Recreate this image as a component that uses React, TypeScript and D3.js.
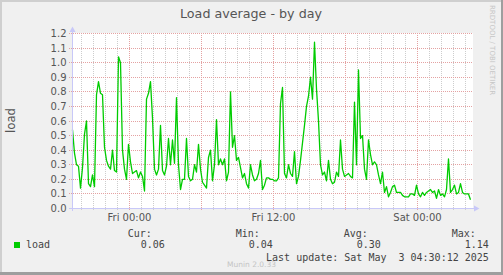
import React from "react";
import * as d3 from "d3";

// ---- data ----
const title = "Load average - by day";
const yAxisLabel = "load";
const seriesName = "load";
const startTime = Date.UTC(2025, 4, 1, 19, 15); // Thu 19:15
const endTime = Date.UTC(2025, 4, 3, 4, 35); // Sat 04:35
const stepMinutes = 10;
const loadValues = [
  0.54, 0.38, 0.30, 0.29, 0.14, 0.28, 0.51, 0.60, 0.17, 0.15,
  0.23, 0.15, 0.78, 0.87, 0.79, 0.78, 0.42, 0.33, 0.29, 0.27,
  0.40, 0.26, 0.25, 1.04, 1.00, 0.40, 0.27, 0.20, 0.44, 0.32,
  0.24, 0.25, 0.26, 0.21, 0.25, 0.22, 0.12, 0.75, 0.79, 0.87,
  0.62, 0.27, 0.23, 0.27, 0.57, 0.26, 0.23, 0.29, 0.48,
  0.30, 0.47, 0.31, 0.76, 0.30, 0.13, 0.20, 0.20, 0.48, 0.22,
  0.19, 0.20, 0.30, 0.25, 0.44, 0.27, 0.18, 0.16, 0.14, 0.35,
  0.40, 0.19, 0.30, 0.61, 0.30, 0.34, 0.30, 0.34, 0.19, 0.25,
  0.80, 0.42, 0.50, 0.33, 0.35, 0.28, 0.21, 0.24, 0.17, 0.14,
  0.30, 0.23, 0.19, 0.20, 0.24, 0.33, 0.13, 0.16, 0.21,
  0.21, 0.20, 0.20, 0.19, 0.19, 0.21, 0.72, 0.83, 0.24, 0.21,
  0.30, 0.24, 0.22, 0.39, 0.17, 0.22, 0.33, 0.45, 0.57, 0.70,
  0.77, 0.90, 0.75, 1.14, 0.82, 0.60, 0.30, 0.23, 0.25, 0.19,
  0.33, 0.20, 0.17, 0.18, 0.25, 0.22, 0.47, 0.27, 0.22, 0.23,
  0.24, 0.22, 0.21, 0.73, 0.30, 0.95, 0.48, 0.50, 0.27,
  0.20, 0.47, 0.37, 0.30, 0.32, 0.30, 0.23, 0.17, 0.25, 0.11,
  0.15, 0.08, 0.11, 0.15, 0.16, 0.11, 0.11, 0.11, 0.09, 0.08,
  0.08, 0.08, 0.10, 0.10, 0.09, 0.16, 0.10, 0.08, 0.11, 0.09,
  0.11, 0.12, 0.13, 0.11, 0.12, 0.07, 0.13, 0.09, 0.10, 0.08,
  0.13, 0.34, 0.11, 0.13, 0.16, 0.10, 0.11, 0.17, 0.11, 0.10,
  0.10, 0.10, 0.06,
];
const yTicks = [0, 0.1, 0.2, 0.3, 0.4, 0.5, 0.6, 0.7, 0.8, 0.9, 1.0, 1.1, 1.2];
const statLabels = ["Cur:", "Min:", "Avg:", "Max:"];
const statValues = ["0.06", "0.04", "0.30", "1.14"];
const lastUpdate = "Last update: Sat May  3 04:30:12 2025";
const watermark = "RRDTOOL / TOBI OETIKER";
const footer = "Munin 2.0.33";

const W = 503;
const H = 275;
const SANS = "'DejaVu Sans', Verdana, sans-serif";
const MONO = "'DejaVu Sans Mono', monospace";
const LINE = "#00cc00";
const AXIS = "#c8c8f8";
const MAJOR = "#e4a2a2";
const MINOR = "#cdcdcd";
const TEXT = "#555555";
const LEGEND = "#444444";

export default function App() {
  const x = d3
    .scaleUtc()
    .domain([new Date(startTime), new Date(endTime)])
    .range([72.5, 472.5]);
  const y = d3.scaleLinear().domain([0, 1.2]).range([208.5, 33.5]);
  const snap = (v: number) => Math.round(v - 0.5) + 0.5;

  const data = loadValues.map((v, i) => ({
    t: new Date(startTime + i * stepMinutes * 60000),
    v,
  }));
  const line = d3
    .line<{ t: Date; v: number }>()
    .x((d) => x(d.t))
    .y((d) => y(d.v));

  const hours = d3.utcHour.every(1)!.range(new Date(startTime), new Date(endTime));
  const minor = hours.filter((d) => d.getUTCHours() % 6 !== 0);
  const major = hours.filter((d) => d.getUTCHours() % 6 === 0);
  const labels = hours.filter((d) => d.getUTCHours() % 12 === 0);
  const fmt = d3.utcFormat("%a %H:%M");
  const yFmt = d3.format(".1f");

  return (
    <svg
      width={W}
      height={H}
      style={{ position: "fixed", left: 0, top: 0, display: "block" }}
    >
      {/* frame */}
      <rect x={0} y={0} width={W} height={H} fill="#f0f0f0" />
      <rect x={0} y={0} width={W} height={2} fill="#cfcfcf" />
      <rect x={0} y={0} width={2} height={H} fill="#cfcfcf" />
      <rect x={W - 2} y={0} width={2} height={H} fill="#9e9e9e" />
      <rect x={0} y={H - 3} width={W} height={3} fill="#9e9e9e" />

      {/* plot background */}
      <rect x={72} y={33} width={401} height={176} fill="#ffffff" />

      {/* minor vertical grid */}
      {minor.map((d, i) => (
        <line
          key={"mi" + i}
          x1={snap(x(d))}
          x2={snap(x(d))}
          y1={33}
          y2={211}
          stroke={MINOR}
          strokeDasharray="1,1"
        />
      ))}
      {/* major vertical grid */}
      {major.map((d, i) => (
        <line
          key={"ma" + i}
          x1={snap(x(d))}
          x2={snap(x(d))}
          y1={33}
          y2={211}
          stroke={MAJOR}
          strokeDasharray="1,1"
        />
      ))}
      {/* horizontal grid */}
      {yTicks.slice(1).map((t, i) => (
        <line
          key={"h" + i}
          x1={69}
          x2={473}
          y1={snap(y(t))}
          y2={snap(y(t))}
          stroke={MAJOR}
          strokeDasharray="1,1"
        />
      ))}

      {/* y tick labels */}
      {yTicks.map((t, i) => (
        <text
          key={"yl" + i}
          x={66.5}
          y={snap(y(t)) + 3.8}
          textAnchor="end"
          fontFamily={SANS}
          fontSize={10}
          fill={TEXT}
        >
          {yFmt(t)}
        </text>
      ))}
      {/* x tick labels */}
      {labels.map((d, i) => (
        <text
          key={"xl" + i}
          x={x(d)}
          y={220.5}
          textAnchor="middle"
          fontFamily={SANS}
          fontSize={10}
          fill={TEXT}
        >
          {fmt(d)}
        </text>
      ))}

      {/* data line */}
      <path
        d={line(data) || ""}
        fill="none"
        stroke={LINE}
        strokeWidth={1.3}
        strokeLinejoin="round"
      />

      {/* axes */}
      <line x1={72.5} x2={72.5} y1={211} y2={31} stroke={AXIS} />
      <polygon points="69.5,32 75.5,32 72.5,26.5" fill={AXIS} />
      <line x1={69} x2={475} y1={208.5} y2={208.5} stroke={AXIS} />
      <polygon points="474,205.5 474,211.5 479.5,208.5" fill={AXIS} />

      {/* title */}
      <text
        x={251}
        y={17.5}
        textAnchor="middle"
        fontFamily={SANS}
        fontSize={12.7}
        fill={TEXT}
      >
        {title}
      </text>
      {/* vertical axis label */}
      <text
        transform="translate(15,120.5) rotate(-90)"
        textAnchor="middle"
        fontFamily={SANS}
        fontSize={11.7}
        fill={TEXT}
      >
        {yAxisLabel}
      </text>
      {/* watermark */}
      <text
        transform="translate(490,5) rotate(90)"
        fontFamily={SANS}
        fontSize={7}
        fill="#c6c6c6"
      >
        {watermark}
      </text>

      {/* legend */}
      <rect x={14} y={242} width={6} height={6} fill={LINE} />
      <text x={26} y={248} fontFamily={MONO} fontSize={10} fill={LEGEND}>
        {seriesName}
      </text>
      {statLabels.map((s, i) => (
        <text
          key={"sl" + i}
          x={151.8 + i * 108}
          y={237}
          textAnchor="end"
          fontFamily={MONO}
          fontSize={10}
          fill={LEGEND}
          style={{ whiteSpace: "pre" }}
        >
          {s}
        </text>
      ))}
      {statValues.map((s, i) => (
        <text
          key={"sv" + i}
          x={164.8 + i * 108}
          y={248}
          textAnchor="end"
          fontFamily={MONO}
          fontSize={10}
          fill={LEGEND}
        >
          {s}
        </text>
      ))}
      <text
        x={488.8}
        y={260.5}
        textAnchor="end"
        fontFamily={MONO}
        fontSize={10}
        fill={LEGEND}
        style={{ whiteSpace: "pre" }}
      >
        {lastUpdate}
      </text>
      <text
        x={251.5}
        y={266.5}
        textAnchor="middle"
        fontFamily={SANS}
        fontSize={7.5}
        fill="#c4c4c4"
      >
        {footer}
      </text>
    </svg>
  );
}
